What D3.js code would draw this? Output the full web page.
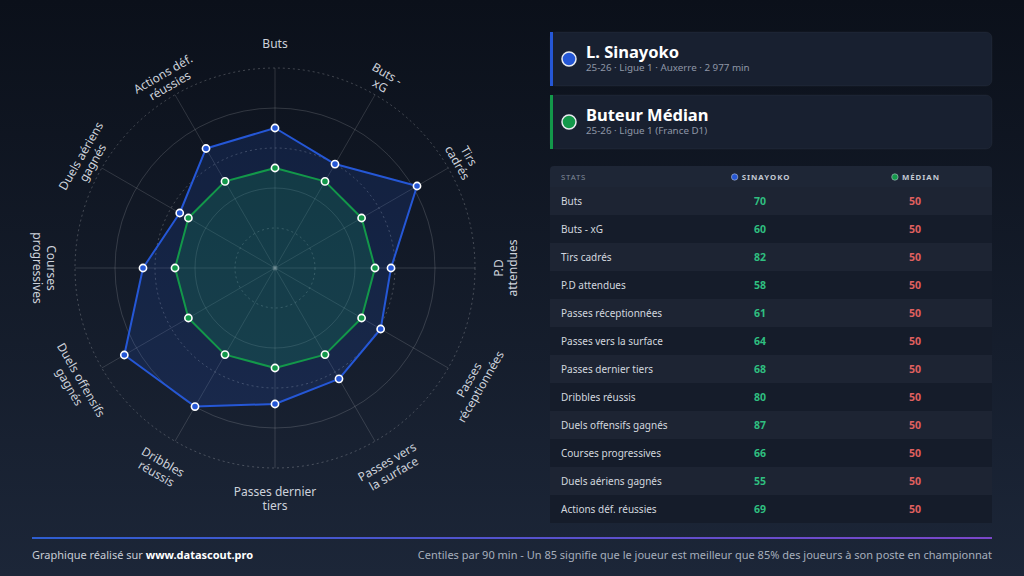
<!DOCTYPE html>
<html>
<head>
<meta charset="utf-8">
<script src="https://cdn.jsdelivr.net/npm/d3@7"></script>
<style>
  html, body { margin: 0; padding: 0; background: #0c111c; }
  svg { display: block; font-family: "Noto Sans", "Open Sans", sans-serif; }
</style>
</head>
<body>
<div id="container"></div>
<script>
/* CONSTANTS AND GLOBALS */
const width = 1024, height = 576;

/* DATA */
const statNames = ["Buts", "Buts - xG", "Tirs cadrés", "P.D attendues", "Passes réceptionnées",
  "Passes vers la surface", "Passes dernier tiers", "Dribbles réussis", "Duels offensifs gagnés",
  "Courses progressives", "Duels aériens gagnés", "Actions déf. réussies"];
const axisLabels = [["Buts"], ["Buts -", "xG"], ["Tirs", "cadrés"], ["P.D", "attendues"],
  ["Passes", "réceptionnées"], ["Passes vers", "la surface"], ["Passes dernier", "tiers"],
  ["Dribbles", "réussis"], ["Duels offensifs", "gagnés"], ["Courses", "progressives"],
  ["Duels aériens", "gagnés"], ["Actions déf.", "réussies"]];
const playerValues = [70, 60, 82, 58, 61, 64, 68, 80, 87, 66, 55, 69];
const medianValues = [50, 50, 50, 50, 50, 50, 50, 50, 50, 50, 50, 50];
const ringLevels = [20, 40, 60, 80, 100];

const blue = "#2557d6", green = "#13984a";

const svg = d3.select("#container").append("svg")
  .attr("width", width).attr("height", height);

const defs = svg.append("defs");
const bg = defs.append("linearGradient").attr("id", "bg").attr("x1", 0).attr("y1", 0).attr("x2", 0).attr("y2", 1);
bg.append("stop").attr("offset", "0%").attr("stop-color", "#0b101a");
bg.append("stop").attr("offset", "100%").attr("stop-color", "#1c2638");
const lineGrad = defs.append("linearGradient").attr("id", "foot").attr("x1", 0).attr("x2", 1);
lineGrad.append("stop").attr("offset", "0%").attr("stop-color", "#2e5ed0");
lineGrad.append("stop").attr("offset", "100%").attr("stop-color", "#7a47c9");

svg.append("rect").attr("width", width).attr("height", height).attr("fill", "url(#bg)");

// RADAR
const cx = 275, cy = 268;
const rScale = d3.scaleLinear().domain([0, 100]).range([0, 200]);
const angle = d3.scaleLinear().domain([0, statNames.length]).range([0, 2 * Math.PI]);

const radar = svg.append("g").attr("transform", `translate(${cx},${cy})`);

radar.selectAll("circle.ring")
  .data(ringLevels)
  .join("circle")
  .attr("class", "ring")
  .attr("r", d => rScale(d))
  .attr("fill", "none")
  .attr("stroke", (d, i) => i % 2 === 0 ? "rgba(255,255,255,0.22)" : "rgba(255,255,255,0.15)")
  .attr("stroke-width", 1)
  .attr("stroke-dasharray", (d, i) => i % 2 === 0 ? "2,3" : null);

radar.selectAll("line.spoke")
  .data(statNames)
  .join("line")
  .attr("class", "spoke")
  .attr("x1", 0).attr("y1", 0)
  .attr("x2", (d, i) => rScale(100) * Math.sin(angle(i)))
  .attr("y2", (d, i) => -rScale(100) * Math.cos(angle(i)))
  .attr("stroke", "rgba(255,255,255,0.14)")
  .attr("stroke-width", 1);

const radarLine = d3.lineRadial()
  .angle((d, i) => angle(i))
  .radius(d => rScale(d))
  .curve(d3.curveLinearClosed);

const series = [
  { values: playerValues, color: blue, fill: "rgba(37,87,214,0.17)" },
  { values: medianValues, color: green, fill: "rgba(25,150,90,0.22)" }
];

series.forEach(s => {
  radar.append("path")
    .attr("d", radarLine(s.values))
    .attr("fill", s.fill)
    .attr("stroke", s.color)
    .attr("stroke-width", 2)
    .attr("stroke-linejoin", "round");
});

series.forEach(s => {
  radar.selectAll(null)
    .data(s.values)
    .join("circle")
    .attr("cx", (d, i) => rScale(d) * Math.sin(angle(i)))
    .attr("cy", (d, i) => -rScale(d) * Math.cos(angle(i)))
    .attr("r", 3.6)
    .attr("fill", s.color)
    .attr("stroke", "#ffffff")
    .attr("stroke-width", 1.6);
});

radar.append("circle").attr("r", 2.5).attr("fill", "rgba(255,255,255,0.2)");

// AXIS LABELS
const labelR = 224;
const labels = radar.selectAll("g.label")
  .data(axisLabels)
  .join("g")
  .attr("class", "label")
  .attr("transform", (d, i) => {
    const a = angle(i), deg = a * 180 / Math.PI;
    let rot = (deg >= 90 && deg <= 270) ? deg - 180 : (deg > 270 ? deg - 360 : deg);
    return `translate(${labelR * Math.sin(a)},${-labelR * Math.cos(a)}) rotate(${rot})`;
  });

labels.append("text")
  .attr("text-anchor", "middle")
  .attr("fill", "#cdd2db")
  .attr("font-size", 12)
  .selectAll("tspan")
  .data(d => d)
  .join("tspan")
  .attr("x", 0)
  .attr("y", (d, i) => i * 13.5)
  .attr("dy", "0.35em")
  .text(d => d);

// PLAYER CARDS
const cards = [
  { name: "L. Sinayoko", sub: "25-26 · Ligue 1 · Auxerre · 2 977 min", color: blue, y: 32 },
  { name: "Buteur Médian", sub: "25-26 · Ligue 1 (France D1)", color: green, y: 95 }
];
cards.forEach(c => {
  const g = svg.append("g").attr("transform", `translate(550,${c.y})`);
  g.append("rect").attr("width", 442).attr("height", 54).attr("rx", 6)
    .attr("fill", "#182030").attr("stroke", "rgba(255,255,255,0.04)");
  g.append("rect").attr("width", 3).attr("height", 54).attr("fill", c.color);
  g.append("circle").attr("cx", 19).attr("cy", 27).attr("r", 7)
    .attr("fill", c.color).attr("stroke", "#e8ebf0").attr("stroke-width", 1.5);
  g.append("text").attr("x", 36).attr("y", 26).attr("fill", "#ffffff")
    .attr("font-size", 16.5).attr("font-weight", 700).text(c.name);
  g.append("text").attr("x", 36).attr("y", 39).attr("fill", "#8e96a6")
    .attr("font-size", 9.8).text(c.sub);
});

// TABLE
const tableX = 550, tableW = 442, headY = 166, headH = 21, rowH = 28;
const colName = 561, colPlayer = 760, colMedian = 915;

const table = svg.append("g");
table.append("rect").attr("x", tableX).attr("y", headY).attr("width", tableW).attr("height", headH + 4)
  .attr("rx", 4).attr("fill", "#1e2636");
table.append("text").attr("x", colName).attr("y", headY + 13.5).attr("fill", "#7f8898")
  .attr("font-size", 7.8).attr("letter-spacing", 0.8).text("STATS");

[{ label: "SINAYOKO", x: colPlayer, color: blue }, { label: "MÉDIAN", x: colMedian, color: green }].forEach(h => {
  const t = table.append("text").attr("x", h.x + 6).attr("y", headY + 13.5).attr("text-anchor", "middle")
    .attr("fill", "#c3c8d2").attr("font-size", 7.8).attr("font-weight", 700)
    .attr("letter-spacing", 1).text(h.label);
  const w = t.node().getComputedTextLength();
  table.append("circle").attr("cx", h.x + 6 - w / 2 - 7).attr("cy", headY + 11)
    .attr("r", 3.2).attr("fill", h.color).attr("stroke", "#b8c0cc").attr("stroke-width", 0.6);
});

const yRow = d3.scaleBand().domain(d3.range(statNames.length))
  .range([headY + headH, headY + headH + rowH * statNames.length]);

const rows = table.selectAll("g.row")
  .data(statNames)
  .join("g")
  .attr("class", "row")
  .attr("transform", (d, i) => `translate(0,${yRow(i)})`);

rows.append("rect").attr("x", tableX).attr("width", tableW).attr("height", yRow.bandwidth())
  .attr("fill", (d, i) => i % 2 === 0 ? "#1d2433" : "#151c2a");
rows.append("text").attr("x", colName).attr("y", rowH / 2).attr("dy", "0.35em")
  .attr("fill", "#d2d7df").attr("font-size", 10).text(d => d);
rows.append("text").attr("x", colPlayer).attr("y", rowH / 2).attr("dy", "0.35em")
  .attr("text-anchor", "middle").attr("fill", "#2fbf80").attr("font-size", 10.5)
  .attr("font-weight", 700).text((d, i) => playerValues[i]);
rows.append("text").attr("x", colMedian).attr("y", rowH / 2).attr("dy", "0.35em")
  .attr("text-anchor", "middle").attr("fill", "#e0605f").attr("font-size", 10.5)
  .attr("font-weight", 700).text((d, i) => medianValues[i]);

// FOOTER
svg.append("rect").attr("x", 32).attr("y", 537).attr("width", 960).attr("height", 2).attr("fill", "url(#foot)");
const foot = svg.append("text").attr("x", 32).attr("y", 559).attr("font-size", 11).attr("fill", "#c8cdd6");
foot.append("tspan").text("Graphique réalisé sur ");
foot.append("tspan").attr("font-weight", 700).attr("fill", "#ffffff").text("www.datascout.pro");
svg.append("text").attr("x", 992).attr("y", 559).attr("text-anchor", "end").attr("font-size", 11)
  .attr("fill", "#a6aebc")
  .text("Centiles par 90 min - Un 85 signifie que le joueur est meilleur que 85% des joueurs à son poste en championnat");
</script>
</body>
</html>
